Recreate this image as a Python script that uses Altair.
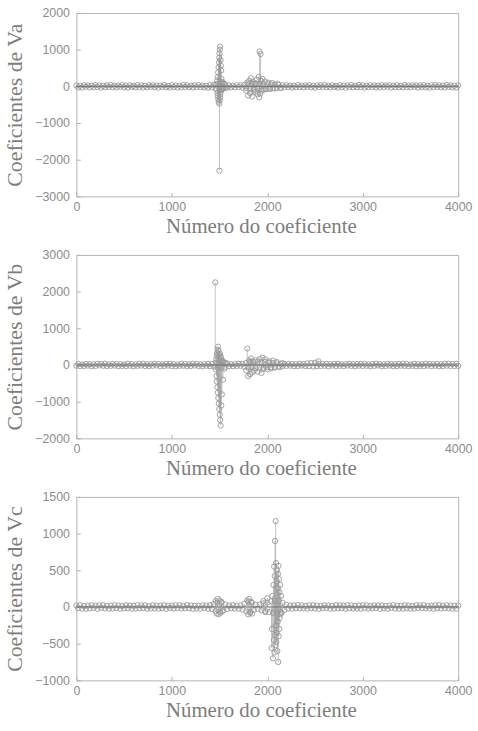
import altair as alt
import pandas as pd

# Background coefficients are sampled every STEP positions along 0..4000
STEP = 20

# ---- Va -------------------------------------------------------------
va_base = [22, -28, 15, -34, 30, -12, 26, -31, 18, -24,
           33, -19, 21, -36, 14, -27, 29, -16, 35, -22,
           17, -30, 24, -13, 32, -25, 20, -35, 28, -18,
           13, -29, 34, -21, 25, -33, 16, -26, 31, -14,
           27, -23, 19, -37, 22, -15, 36, -28, 12, -32,
           30, -20, 23, -34, 18, -26, 33, -17, 29, -24,
           15, -31, 26, -19, 35, -22, 21, -30, 14, -36,
           28, -25, 40, -55, 60, -70, 65, -58, 45, -38,
           24, -30, 19, -27, 33, -21, 26, -35, 40, -50,
           55, -65, 70, -60, 75, -68, 62, -72, 58, -66,
           60, -55, 52, -48, 45, -40, 38, -33, 28, -25,
           31, -18, 22, -35, 17, -28, 34, -23, 20, -30,
           26, -14, 32, -27, 19, -36, 24, -21, 29, -16,
           35, -24, 18, -31, 27, -20, 13, -33, 30, -26,
           21, -37, 25, -17, 34, -29, 16, -22, 36, -19,
           28, -32, 14, -25, 31, -18, 23, -34, 20, -27,
           33, -21, 26, -15, 29, -35, 18, -24, 32, -28,
           17, -30, 35, -20, 22, -26, 30, -13, 25, -33,
           24, -18, 31, -29, 15, -36, 27, -22, 34, -17,
           29, -25, 20, -32, 36, -16, 23, -30, 18, -35,
           26]
va_event_n = [1465, 1470, 1475, 1478, 1480, 1482, 1485, 1487, 1490, 1492,
              1494, 1496, 1497, 1499, 1500, 1502, 1503, 1505, 1506, 1508,
              1510, 1512, 1514, 1516, 1518, 1520, 1523, 1526, 1530, 1535,
              1540, 1550, 1560,
              1780, 1790, 1800, 1810, 1820, 1830, 1840, 1850, 1860, 1870,
              1880, 1890, 1900, 1910, 1915, 1920, 1925, 1930, 1935, 1940,
              1950, 1960, 1975, 1990, 2010, 2030, 2050, 2080, 2110, 2140]
va_event_v = [60, -90, 150, -180, 250, -260, 380, -350, 520, -420,
              650, -470, 780, -2300, 900, -380, 1000, -300, 1080, -220,
              720, -150, 560, -100, 430, 200, -80, 120, -60, 90,
              -50, 70, -40,
              -120, 100, -250, 150, -180, 220, -280, 120, -100, 80,
              -150, 180, -220, 260, -300, 950, -200, 880, 150, -120,
              200, -90, 130, -80, 100, -70, 90, -60, 70, -50]

# ---- Vb -------------------------------------------------------------
vb_base = [-18, 27, -32, 14, -25, 30, -16, 23, -34, 19,
           -27, 32, -13, 26, -21, 35, -29, 18, -24, 31,
           -16, 28, -33, 21, -26, 15, -30, 34, -20, 25,
           -35, 17, -23, 29, -18, 33, -27, 20, -31, 24,
           -22, 36, -14, 28, -32, 19, -25, 30, -17, 34,
           -29, 22, -36, 16, -24, 31, -19, 27, -33, 21,
           -26, 35, -15, 30, -28, 18, -34, 24, -21, 29,
           -32, 26, -45, 60, -75, 80, -70, 62, -50, 40,
           -28, 24, -33, 19, -27, 35, -22, 30, -45, 55,
           -70, 80, -65, 75, -85, 90, -72, 68, -78, 84,
           -66, 60, -58, 52, -47, 44, -38, 35, -30, 26,
           -24, 31, -19, 27, -34, 22, -28, 33, -17, 25,
           -35, 45, -30, 55, -40, 60, -33, 28, -26, 32,
           -21, 29, -36, 24, -18, 30, -27, 34, -23, 19,
           -30, 26, -16, 33, -25, 21, -35, 28, -19, 31,
           -27, 35, -22, 18, -32, 29, -24, 36, -15, 23,
           -33, 20, -28, 31, -17, 26, -34, 22, -29, 30,
           -19, 34, -25, 27, -31, 16, -23, 33, -36, 24,
           -26, 21, -30, 35, -18, 28, -32, 25, -22, 29,
           -34, 19, -27, 32, -20, 36, -24, 26, -29, 31,
           -25]
vb_event_n = [1455, 1460, 1465, 1468, 1470, 1472, 1475, 1478, 1480, 1482,
              1485, 1487, 1490, 1492, 1495, 1497, 1500, 1502, 1505, 1507,
              1510, 1512, 1515, 1518, 1520, 1525, 1530, 1535, 1540, 1550,
              1560,
              1780, 1790, 1800, 1810, 1820, 1830, 1840, 1850, 1860, 1880,
              1900, 1920, 1940, 1950, 1960, 1980, 2000, 2020, 2040, 2060,
              2080, 2100, 2130, 2160, 2535]
vb_event_v = [2250, -120, 150, -300, 250, -450, 320, -600, 420, -750,
              500, -900, 380, -1050, 280, -1200, 200, -1350, 300, -1500,
              150, -1650, 220, -1100, 100, -800, 120, -400, 80, -100,
              60,
              -150, 450, -300, 120, -250, 180, -200, 100, -150, 130,
              -180, 160, -220, 200, -100, 150, -120, 100, -90, 120,
              -70, 80, -60, 50, 100]

# ---- Vc -------------------------------------------------------------
vc_base = [20, -16, 24, -22, 13, -25, 19, -18, 23, -14,
           17, -24, 21, -12, 25, -20, 15, -23, 18, -21,
           22, -15, 19, -25, 14, -19, 24, -17, 20, -23,
           16, -22, 25, -18, 21, -14, 23, -24, 12, -20,
           24, -19, 17, -23, 20, -16, 22, -25, 18, -13,
           19, -21, 23, -15, 24, -22, 14, -18, 25, -17,
           21, -25, 16, -20, 18, -24, 22, -14, 19, -23,
           25, -30, 40, -55, 60, -65, 55, -45, 35, -28,
           20, -18, 24, -22, 17, -25, 21, -35, 45, -60,
           70, -65, 55, -40, 30, -25, 35, -45, 50, -55,
           60, -70, 75, -80, 85, -90, 80, -70, 55, -40,
           30, -22, 18, -24, 21, -16, 25, -19, 23, -20,
           15, -23, 22, -17, 24, -21, 19, -25, 16, -18,
           23, -14, 20, -24, 17, -22, 25, -19, 21, -15,
           18, -25, 24, -16, 22, -20, 14, -23, 19, -24,
           25, -17, 21, -22, 16, -19, 23, -15, 20, -25,
           22, -20, 15, -24, 19, -13, 25, -21, 18, -23,
           17, -24, 23, -18, 20, -25, 16, -22, 24, -14,
           21, -16, 25, -20, 13, -22, 19, -24, 22, -17,
           24, -21, 18, -15, 23, -19, 20, -25, 17, -22,
           20]
vc_event_n = [1460, 1470, 1480, 1490, 1500, 1510, 1520, 1530,
              1790, 1800, 1810, 1820, 1830, 1840,
              1960, 1980, 2000,
              2045, 2050, 2055, 2060, 2065, 2070, 2072, 2075, 2078, 2080,
              2082, 2085, 2088, 2090, 2092, 2095, 2098, 2100, 2102, 2105,
              2108, 2110, 2112, 2115, 2118, 2120, 2122, 2125, 2128, 2130,
              2135, 2140, 2145, 2150]
vc_event_v = [80, -90, 110, -100, 90, -80, 70, -60,
              90, -100, 110, -80, 70, -90,
              80, -70, 120,
              -560, -300, 150, -700, 300, -450, 550, -620, 420, -380,
              900, -520, 1170, -250, 600, -480, 350, -350, 500, -600,
              250, -200, 450, -750, 560, -400, 380, -300, 200, -150,
              300, -100, 150, -80]

X_TICKS = [0, 1000, 2000, 3000, 4000]
MARK_GRAY = "#999999"


def panel(base, ev_n, ev_v, domain, ticks, ylabel):
    n = [i * STEP for i in range(len(base))] + ev_n
    v = base + ev_v
    df = pd.DataFrame({"n": n, "v": v, "zero": [0] * len(n)})

    x = alt.X("n:Q", scale=alt.Scale(domain=[0, 4000], nice=False, zero=False),
              axis=alt.Axis(values=X_TICKS, tickCount=12,
                            title="Número do coeficiente",
                            titleX=186, labelOverlap=False, format="d"))
    y = alt.Y("v:Q", scale=alt.Scale(domain=domain, nice=False),
              axis=alt.Axis(values=ticks, tickCount=12, title=ylabel,
                            labelOverlap=False, format="d"))

    stems = alt.Chart(df).mark_rule(color=MARK_GRAY, strokeWidth=0.6).encode(
        x=x, y=y, y2="zero:Q")
    circles = alt.Chart(df).mark_point(shape="circle", filled=False, size=28,
                                       color=MARK_GRAY, strokeWidth=0.9,
                                       opacity=1).encode(
        x="n:Q", y="v:Q")
    baseline = alt.Chart(pd.DataFrame({"z": [0]})).mark_rule(
        color="#707070", strokeWidth=1).encode(y="z:Q")
    return alt.layer(stems, circles, baseline).properties(width=385, height=185)


pa = panel(va_base, va_event_n, va_event_v, [-3000, 2000],
           [-3000, -2000, -1000, 0, 1000, 2000], "Coeficientes de Va")
pb = panel(vb_base, vb_event_n, vb_event_v, [-2000, 3000],
           [-2000, -1000, 0, 1000, 2000, 3000], "Coeficientes de Vb")
pc = panel(vc_base, vc_event_n, vc_event_v, [-1000, 1500],
           [-1000, -500, 0, 500, 1000, 1500], "Coeficientes de Vc")

chart = alt.vconcat(pa, pb, pc, spacing=59, bounds="flush").configure_view(
    stroke="#b4b4b4", strokeWidth=1
).configure_axis(
    grid=False, domain=False, labelFlush=False,
    ticks=True, tickSize=4, tickColor="#b0b0b0", offset=-4,
    labelFont="Liberation Sans", labelFontSize=12.5, labelColor="#8c8c8c",
    titleFont="Liberation Serif", titleFontSize=21, titleFontWeight="normal",
    titleColor="#7d7d7d",
).configure_axisX(labelPadding=4, titlePadding=3).configure_axisY(
    labelPadding=7, titlePadding=8, titleFontSize=22
).properties(
    background="white", padding={"left": 3, "top": 3, "right": 5, "bottom": 5}
)

chart.save("out.html", embed_options={"renderer": "svg", "actions": False})
